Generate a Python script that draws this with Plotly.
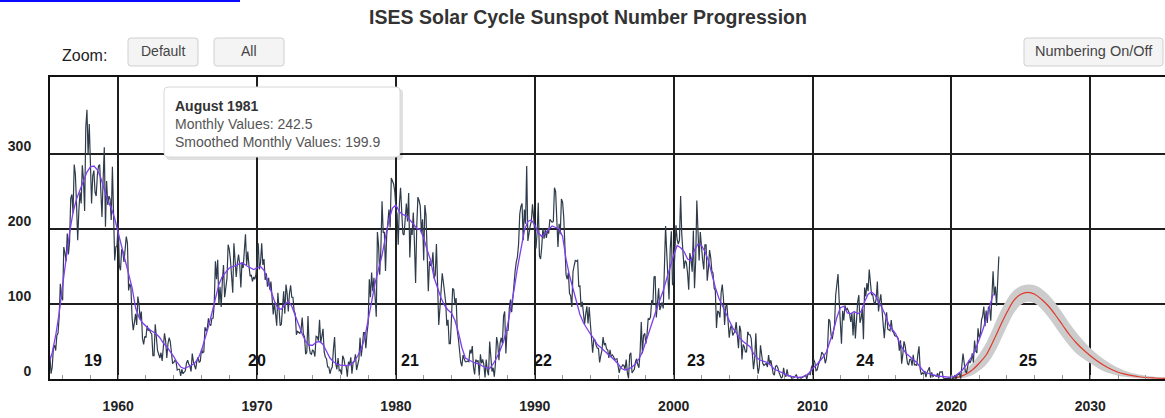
import plotly.graph_objects as go

# ---------------- DATA ----------------
START_YEAR = 1955  # first month of monthly series (January)

monthly_ssn = [
    33, 30, 7, 16, 41, 45, 38, 58, 61, 83, 127, 109,            # 1955
    105, 176, 168, 157, 194, 166, 183, 241, 246, 221, 286, 273,  # 1956
    234, 185, 224, 249, 234, 285, 266, 224, 335, 359, 299, 340,  # 1957
    288, 234, 271, 278, 249, 244, 272, 284, 286, 258, 216, 266,  # 1958
    309, 203, 264, 232, 244, 240, 212, 283, 206, 158, 176, 178,  # 1959
    208, 151, 145, 173, 170, 156, 173, 190, 181, 118, 127, 122,  # 1960
    82, 65, 75, 87, 72, 110, 100, 79, 90, 54, 46, 57,            # 1961
    55, 71, 65, 66, 62, 60, 31, 31, 73, 56, 38, 33,              # 1962
    28, 35, 24, 42, 61, 51, 28, 47, 55, 50, 33, 21,              # 1963
    22, 25, 23, 12, 13, 13, 4, 13, 7, 9, 11, 21,                 # 1964
    25, 20, 17, 10, 34, 23, 17, 13, 24, 29, 22, 24,              # 1965
    40, 35, 36, 69, 64, 68, 81, 73, 71, 81, 81, 100,             # 1966
    157, 133, 159, 99, 123, 96, 130, 152, 109, 125, 134, 179,    # 1967
    173, 159, 131, 115, 181, 157, 136, 155, 166, 153, 122, 156,  # 1968
    148, 171, 193, 152, 170, 151, 137, 139, 130, 136, 133, 139,  # 1969
    158, 181, 146, 155, 181, 152, 160, 132, 141, 123, 135, 119,  # 1970
    130, 112, 86, 102, 82, 71, 115, 87, 71, 73, 90, 117,         # 1971
    87, 126, 114, 90, 114, 125, 109, 109, 91, 87, 59, 64,        # 1972
    62, 61, 65, 82, 60, 56, 33, 36, 84, 44, 34, 33,              # 1973
    39, 37, 30, 57, 56, 51, 79, 48, 57, 67, 36, 29,              # 1974
    27, 16, 16, 7, 13, 16, 40, 56, 20, 13, 28, 11,               # 1975
    12, 6, 31, 27, 18, 17, 3, 23, 19, 29, 7, 22,                 # 1976
    23, 33, 12, 18, 26, 55, 30, 43, 62, 62, 41, 61,              # 1977
    74, 133, 109, 142, 117, 135, 100, 83, 196, 178, 139, 174,    # 1978
    237, 195, 196, 144, 191, 212, 226, 202, 268, 264, 260, 250,  # 1979
    227, 220, 179, 233, 255, 223, 194, 192, 220, 234, 210, 248,  # 1980
    162, 201, 192, 222, 181, 128, 204, 242.5, 238, 231, 195, 213,  # 1981
    158, 232, 218, 173, 117, 157, 151, 153, 169, 134, 139, 180,  # 1982
    120, 72, 94, 115, 141, 129, 117, 102, 71, 79, 47, 47,        # 1983
    81, 121, 119, 99, 108, 65, 53, 36, 22, 17, 32, 27,           # 1984
    23, 23, 24, 23, 39, 34, 44, 16, 6, 26, 23, 25,               # 1985
    4, 33, 21, 26, 19, 2, 26, 11, 5, 50, 22, 10,                 # 1986
    15, 3, 21, 56, 47, 25, 48, 55, 47, 84, 90, 34,               # 1987
    65, 65, 95, 106, 89, 112, 133, 144, 156, 163, 180, 220,      # 1988
    230, 234, 185, 226, 207, 284, 184, 196, 204, 210, 233, 215,  # 1989
    198, 174, 195, 235, 164, 160, 176, 201, 187, 199, 188, 198,  # 1990
    194, 213, 211, 209, 210, 255, 250, 220, 176, 207, 193, 240,  # 1991
    236, 216, 176, 139, 133, 142, 114, 111, 96, 143, 151, 158,   # 1992
    157, 159, 123, 124, 96, 103, 88, 73, 87, 97, 74, 96,         # 1993
    74, 52, 35, 53, 52, 45, 41, 41, 22, 31, 38, 56,              # 1994
    45, 48, 40, 39, 28, 39, 30, 32, 30, 26, 26, 27,              # 1995
    17, 8, 16, 16, 19, 18, 13, 26, 8, 1, 32, 35,                 # 1996
    8, 11, 13, 23, 27, 19, 15, 36, 76, 34, 58, 61,               # 1997
    47, 60, 81, 79, 83, 105, 99, 136, 137, 82, 110, 121,         # 1998
    92, 98, 102, 94, 157, 204, 168, 139, 106, 173, 197, 125,     # 1999
    133, 167, 205, 186, 180, 185, 244, 193, 162, 147, 158, 155,  # 2000
    141, 119, 168, 159, 143, 198, 121, 157, 238, 186, 158, 196,  # 2001
    169, 159, 146, 179, 179, 131, 147, 172, 162, 144, 141, 121,  # 2002
    118, 68, 91, 89, 82, 115, 126, 108, 72, 97, 99, 69,          # 2003
    55, 68, 72, 58, 61, 64, 76, 61, 41, 71, 64, 26,              # 2004
    46, 43, 36, 36, 63, 59, 59, 54, 33, 13, 27, 61,              # 2005
    23, 7, 16, 45, 33, 21, 18, 19, 21, 16, 32, 20,               # 2006
    25, 16, 7, 5, 17, 18, 15, 9, 4, 1, 3, 15,                    # 2007
    5, 3, 13, 4, 4, 4, 1, 1, 2, 4, 6, 1,                         # 2008
    2, 2, 1, 2, 4, 4, 5, 0, 6, 7, 6, 15,                         # 2009
    19, 26, 22, 11, 12, 19, 23, 28, 36, 33, 31, 21,              # 2010
    27, 42, 80, 77, 59, 53, 62, 72, 112, 125, 140, 105,          # 2011
    83, 47, 91, 78, 98, 92, 94, 89, 87, 76, 88, 58,              # 2012
    89, 54, 82, 103, 112, 75, 81, 94, 53, 122, 110, 128,         # 2013
    117.0, 146.1, 128.7, 112.5, 112.5, 102.9, 100.2, 106.9, 130.0, 90.0, 103.6, 112.9,  # 2014
    93.0, 66.7, 54.5, 75.3, 88.8, 66.5, 65.8, 64.4, 78.6, 63.6, 62.2, 58.0,            # 2015
    57.0, 56.4, 54.1, 37.9, 51.5, 20.5, 32.4, 50.2, 44.6, 33.4, 21.4, 18.5,            # 2016
    26.1, 26.4, 17.7, 32.3, 18.9, 19.2, 17.8, 32.6, 43.7, 13.2, 5.7, 8.2,              # 2017
    6.8, 10.7, 2.5, 8.9, 13.1, 15.6, 1.6, 8.7, 3.3, 4.9, 4.9, 3.1,                     # 2018
    7.7, 0.8, 9.4, 9.1, 9.9, 1.2, 0.9, 0.5, 1.1, 0.4, 0.5, 1.5,                        # 2019
    6.2, 0.2, 1.5, 5.2, 0.2, 5.8, 6.1, 7.5, 0.6, 14.4, 34.0, 21.8,                     # 2020
    10.4, 8.2, 17.2, 24.5, 21.2, 25.0, 34.3, 22.0, 51.3, 37.4, 34.8, 67.5,             # 2021
    55.3, 59.9, 78.5, 84.1, 96.5, 70.5, 91.4, 74.6, 96.0, 95.5, 77.6, 113.1,           # 2022
    143.6, 111.3, 123.3, 97.6, 137.4, 163.4,                                           # 2023
]

# 13-month smoothed values, sampled quarterly (Jan, Apr, Jul, Oct) from 1955
smoothed_ssn = [
    20, 35, 58, 88,  125, 160, 195, 222,  240, 252, 264, 276,  283, 284, 279, 268,
    253, 238, 228, 214,  195, 177, 160, 142,  122, 95, 82, 75,  70, 66, 63, 60,
    55, 48, 43, 37,  30, 22, 16, 14,  15.5, 18, 21, 27,  38, 53, 70, 88,
    108, 126, 137, 142,  148, 150, 151, 154,  154, 151, 148, 146,  148, 150, 145, 132,
    117, 104, 94, 93,  99, 104, 97, 84,  71, 60, 50, 45,  45, 49, 50, 46,
    37, 28, 23, 20,  18.5, 18, 17.8, 19,  24, 31, 40, 55,  77, 103, 128, 148,
    165, 190, 212, 228,  232, 223, 219, 218,  212, 206, 201, 199,  188, 172, 158, 135,
    120, 108, 98, 92,  88, 78, 62, 42,  28, 25, 23, 21,  20, 17, 15, 14,
    20, 28, 38, 50,  68, 92, 118, 148,  175, 198, 210, 212,  205, 195, 190, 194,
    200, 204, 202, 200,  190, 160, 138, 120,  105, 86, 75, 67,  60, 54, 46, 42,
    38, 34, 30, 25,  20, 14, 12, 13,  16, 20, 27, 36,  50, 63, 78, 92,
    105, 118, 134, 150,  165, 178, 175, 170,  160, 158, 172, 180,  178, 170, 158, 140,
    122, 108, 98, 88,  76, 68, 62, 55,  50, 47, 43, 34,  28, 25, 24, 22,
    18, 13, 11, 9,  6, 4.5, 3.5, 2.5,  2.2, 2.8, 4, 8,  14, 18, 23, 29,
    36, 50, 64, 82,  95, 97, 88, 87,  90, 87, 90, 103,  113, 116, 112, 103,
    95, 85, 72, 66,  60, 49, 40, 34,  30, 25, 22, 16,  10, 8, 6.5, 5,
    4, 3.5, 3, 2,  2, 4, 7, 11,  17, 24, 31, 40,  52, 65, 80, 96,
    113,
]

# Cycle 25 prediction (half-yearly)
pred_years = [2020.0, 2020.5, 2021.0, 2021.5, 2022.0, 2022.5, 2023.0, 2023.5,
              2024.0, 2024.5, 2025.0, 2025.5, 2026.0, 2026.5, 2027.0, 2027.5,
              2028.0, 2028.5, 2029.0, 2029.5, 2030.0, 2030.5, 2031.0, 2031.5,
              2032.0, 2032.5, 2033.0, 2033.5, 2034.0, 2034.5, 2035.0, 2035.5]
pred_ssn = [0.5, 2.5, 6, 12, 21, 32, 50, 70, 89, 105, 113, 115.5, 113, 106, 97, 85,
            72, 59, 48, 39, 31, 24, 18, 13, 9, 6.5, 4.5, 3, 2, 1.5, 1, 0.8]
pred_high = [2, 6, 12, 21, 33, 48, 68, 89, 106, 118, 124, 126, 125, 120, 112, 101,
             88, 74, 62, 51, 41, 33, 26, 20, 15, 11, 8, 6, 4.5, 3.5, 2.5, 2]
pred_low = [0, 0.5, 2, 5, 11, 19, 32, 50, 70, 88, 99, 103, 101, 93, 82, 69,
            56, 44, 34, 27, 21, 15, 10, 7, 4.5, 3, 2, 1, 0.5, 0.3, 0.2, 0.1]

cycle_labels = ["19", "20", "21", "22", "23", "24", "25"]
cycle_label_x = [1958.2, 1970.0, 1981.0, 1990.6, 2001.6, 2013.8, 2025.5]
cycle_label_y = 25

x_tick_vals = [1960, 1970, 1980, 1990, 2000, 2010, 2020, 2030]
y_tick_vals = [0, 100, 200, 300]

TITLE = "ISES Solar Cycle Sunspot Number Progression"
TOOLTIP_MONTH = "August 1981"
TOOLTIP_MONTHLY = 242.5
TOOLTIP_SMOOTHED = 199.9

# ---------------- FIGURE ----------------
W, H = 1165, 418
ML, MT, MR, MB = 50, 77, 0, 39
PW, PH = W - ML - MR, H - MT - MB
FONT = "Liberation Sans, Arial, Helvetica, sans-serif"


def X(p):
    return (p - ML) / PW


def Y(p):
    return (H - MB - p) / PH


def rrect(x0, y0, x1, y1, r):
    return (f"M {X(x0 + r)},{Y(y0)} L {X(x1 - r)},{Y(y0)} Q {X(x1)},{Y(y0)} {X(x1)},{Y(y0 + r)} "
            f"L {X(x1)},{Y(y1 - r)} Q {X(x1)},{Y(y1)} {X(x1 - r)},{Y(y1)} "
            f"L {X(x0 + r)},{Y(y1)} Q {X(x0)},{Y(y1)} {X(x0)},{Y(y1 - r)} "
            f"L {X(x0)},{Y(y0 + r)} Q {X(x0)},{Y(y0)} {X(x0 + r)},{Y(y0)} Z")


month_x = [START_YEAR + i / 12 for i in range(len(monthly_ssn))]
smooth_x = [START_YEAR + i * 0.25 for i in range(len(smoothed_ssn))]

fig = go.Figure()
fig.add_trace(go.Scatter(x=pred_years, y=pred_high, mode="lines", line=dict(width=0, shape="spline"),
                         hoverinfo="skip", showlegend=False))
fig.add_trace(go.Scatter(x=pred_years, y=pred_low, mode="lines", line=dict(width=0, shape="spline"),
                         fill="tonexty", fillcolor="#cccccc", hoverinfo="skip", showlegend=False))
fig.add_trace(go.Scatter(x=pred_years, y=pred_ssn, mode="lines",
                         line=dict(color="#e0392b", width=1.2, shape="spline"),
                         hoverinfo="skip", showlegend=False))
fig.add_trace(go.Scatter(x=month_x, y=monthly_ssn, mode="lines",
                         line=dict(color="#2e3b4a", width=1.2),
                         hoverinfo="skip", showlegend=False))
fig.add_trace(go.Scatter(x=smooth_x, y=smoothed_ssn, mode="lines",
                         line=dict(color="#7f3ff0", width=1.3),
                         hoverinfo="skip", showlegend=False))

shapes = []
# blue link underline at the top-left corner
shapes.append(dict(type="rect", xref="paper", yref="paper", x0=X(0), x1=X(240), y0=Y(2), y1=Y(0),
                   fillcolor="#0a0aff", line=dict(width=0), layer="above"))
# buttons
buttons = [("Default", 128, 38, 198, 66, 14), ("All", 214, 38, 284, 66, 14),
           ("Numbering On/Off", 1024, 38, 1163, 66, 14.5)]
annotations = []
for label, bx0, by0, bx1, by1, fs in buttons:
    shapes.append(dict(type="path", xref="paper", yref="paper", path=rrect(bx0, by0, bx1, by1, 3),
                       fillcolor="#f4f4f4", line=dict(color="#cfcfcf", width=1), layer="above"))
    annotations.append(dict(xref="paper", yref="paper", x=X((bx0 + bx1) / 2), y=Y((by0 + by1) / 2 - 1),
                            text=label, showarrow=False, xanchor="center", yanchor="middle",
                            font=dict(family=FONT, size=fs, color="#444")))
annotations.append(dict(xref="paper", yref="paper", x=X(60), y=Y(55), text="Zoom:", showarrow=False,
                        xanchor="left", yanchor="middle", font=dict(family=FONT, size=16, color="#222")))

# tooltip box (shadow + box)
shapes.append(dict(type="path", xref="paper", yref="paper", path=rrect(166, 89, 403, 160, 4),
                   fillcolor="rgba(0,0,0,0.12)", line=dict(width=0), layer="above"))
shapes.append(dict(type="path", xref="paper", yref="paper", path=rrect(164, 87, 400, 157, 4),
                   fillcolor="#ffffff", line=dict(color="#d8d8d8", width=1), layer="above"))
annotations.append(dict(xref="paper", yref="paper", x=X(173), y=Y(96), xanchor="left", yanchor="top",
                        align="left", showarrow=False,
                        text=(f"<b><span style='color:#333'>{TOOLTIP_MONTH}</span></b><br>"
                              f"Monthly Values: {TOOLTIP_MONTHLY}<br>"
                              f"Smoothed Monthly Values: {TOOLTIP_SMOOTHED}"),
                        font=dict(family=FONT, size=14, color="#555")))

for lbl, cx in zip(cycle_labels, cycle_label_x):
    annotations.append(dict(x=cx, y=cycle_label_y, xref="x", yref="y", text=lbl, showarrow=False,
                            xanchor="center", yanchor="middle",
                            font=dict(family=FONT, size=16, color="#111", weight="bold")))

fig.update_layout(
    width=W, height=H,
    margin=dict(l=ML, r=MR, t=MT, b=MB, pad=0),
    paper_bgcolor="white", plot_bgcolor="white",
    hovermode=False,
    title=dict(text=TITLE, x=588 / W, y=1 - 17 / H, xref="container", yref="container",
               xanchor="center", yanchor="middle",
               font=dict(family=FONT, size=19.5, color="#333", weight="bold")),
    shapes=shapes,
    annotations=annotations,
    xaxis=dict(range=[1955.09, 2035.38], tickvals=x_tick_vals, ticktext=[str(v) for v in x_tick_vals],
               showgrid=True, gridcolor="#1e1e1e", gridwidth=1.5,
               showline=True, linecolor="#111", linewidth=2, mirror=True,
               ticks="", zeroline=False, ticklabelstandoff=13,
               tickfont=dict(family=FONT, size=14, color="#222", weight="bold"),
               minor=dict(tickmode="linear", tick0=1956, dtick=2, ticks="inside", ticklen=4,
                          tickcolor="#999", tickwidth=1, showgrid=False)),
    yaxis=dict(range=[0, 402.7], tickvals=y_tick_vals, ticktext=[str(v) for v in y_tick_vals],
               showgrid=True, gridcolor="#1e1e1e", gridwidth=1.5,
               showline=True, linecolor="#111", linewidth=2,
               ticks="", zeroline=False, ticklabelshift=-8, ticklabelstandoff=14,
               tickfont=dict(family=FONT, size=14, color="#222", weight="bold")),
)

fig.write_html(
    "out.html",
    config={"displayModeBar": False},
    post_script="document.body.style.margin='0px';document.body.style.padding='0px';"
                "document.body.style.overflow='hidden';",
)
